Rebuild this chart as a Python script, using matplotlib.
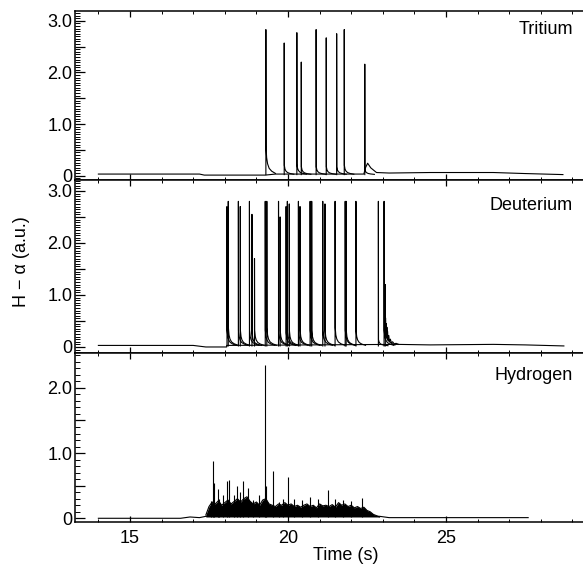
import matplotlib
matplotlib.use("Agg")
import matplotlib.pyplot as plt
import numpy as np
from matplotlib.ticker import MultipleLocator

plt.rcParams['font.family'] = ['Liberation Sans', 'DejaVu Sans']

# ---- Tritium ----
trit_bg_t = [14.0, 17.2, 17.35, 19.28, 19.6, 22.4, 22.45, 22.52, 22.62, 22.8, 23.2, 24.5, 26.5, 27.5, 28.7]
trit_bg_v = [0.03, 0.03, 0.01, 0.01, 0.03, 0.03, 0.15, 0.24, 0.15, 0.06, 0.05, 0.06, 0.06, 0.04, 0.02]
trit_spike_t = [19.30, 19.88, 20.28, 20.42, 20.89, 21.21, 21.54, 21.78, 22.43]
trit_spike_h = [2.83, 2.57, 2.77, 2.20, 2.83, 2.67, 2.75, 2.83, 2.16]
trit_after = [0.55, 0.18, 0.2, 0.15, 0.15, 0.15, 0.15, 0.18, 0.1]

# ---- Deuterium ----
deut_bg_t = [14.0, 17.0, 17.4, 18.06, 18.06, 23.45, 24.5, 26.5, 27.5, 28.73]
deut_bg_v = [0.03, 0.03, 0.0, 0.0, 0.03, 0.05, 0.04, 0.05, 0.04, 0.02]
deut_spike_t = [18.07, 18.11, 18.43, 18.49, 18.78, 18.86, 18.94, 19.28, 19.33, 19.70, 19.75,
                19.94, 19.98, 20.04, 20.33, 20.38, 20.70, 20.75, 21.10, 21.17, 21.49, 21.81,
                21.84, 22.15, 22.86, 23.04, 23.08]
deut_spike_h = [2.7, 2.8, 2.8, 2.7, 2.8, 2.55, 1.7, 2.8, 2.8, 2.8, 2.5, 2.7, 2.8, 2.75, 2.8,
                2.7, 2.8, 2.8, 2.8, 2.75, 2.8, 2.8, 2.8, 2.8, 2.8, 2.8, 1.2]
deut_after = [0.3, 0.35, 0.3, 0.3, 0.3, 0.25, 0.3, 0.3, 0.35, 0.3, 0.3, 0.25, 0.3, 0.3, 0.3,
              0.3, 0.3, 0.3, 0.3, 0.3, 0.35, 0.3, 0.3, 0.3, 0.12, 0.3, 0.45]
deut_tail_t = [23.09, 23.10, 23.11, 23.12, 23.13, 23.14, 23.15, 23.17, 23.19, 23.21, 23.24,
               23.27, 23.31, 23.36, 23.42, 23.5]
deut_tail_v = [0.55, 0.2, 0.45, 0.18, 0.38, 0.15, 0.3, 0.12, 0.22, 0.1, 0.15, 0.08, 0.1,
               0.06, 0.07, 0.05]

# ---- Hydrogen ----
hyd_bg_t = [14.0, 16.6, 16.9, 17.2, 17.4, 22.9, 23.2, 27.6]
hyd_bg_v = [0.0, 0.0, 0.02, 0.01, 0.03, 0.03, 0.01, 0.01]
hyd_env_v = [0.05, 0.18, 0.25, 0.22, 0.27, 0.2, 0.24, 0.28, 0.22, 0.26,
             0.3, 0.25, 0.3, 0.33, 0.26, 0.22, 0.25, 0.2, 0.28, 0.3,
             0.22, 0.2, 0.18, 0.22, 0.2, 0.24, 0.2, 0.22, 0.18, 0.2,
             0.17, 0.2, 0.22, 0.18, 0.2, 0.16, 0.22, 0.19, 0.2, 0.18,
             0.21, 0.17, 0.24, 0.2, 0.22, 0.18, 0.2, 0.16, 0.18, 0.15,
             0.17, 0.12, 0.1, 0.06, 0.04, 0.02]
hyd_env_t = np.round(17.4 + 0.1 * np.arange(len(hyd_env_v)), 2)
hyd_spike_t = [17.56, 17.64, 17.67, 17.77, 17.82, 17.95, 18.07, 18.13, 18.28, 18.38, 18.49,
               18.59, 18.75, 18.88, 19.08, 19.26, 19.30, 19.54, 19.7, 19.85, 20.01, 20.2,
               20.45, 20.7, 20.95, 21.28, 21.5, 21.75, 22.0, 22.33]
hyd_spike_h = [0.26, 0.88, 0.54, 0.45, 0.30, 0.35, 0.57, 0.59, 0.35, 0.5, 0.41, 0.57, 0.47,
               0.28, 0.35, 2.35, 0.49, 0.73, 0.25, 0.3, 0.63, 0.3, 0.28, 0.32, 0.3, 0.44,
               0.3, 0.28, 0.27, 0.31]

# decay shape after each ELM, fraction of the post-spike level
decay_dt = [0.02, 0.05, 0.1, 0.18, 0.3]
decay_frac = [0.6, 0.38, 0.22, 0.12, 0.04]

LW = 0.8


def draw_elms(ax, times, heights, after, base=0.02):
    for t, h, a in zip(times, heights, after):
        xs = [t, t, t + 0.004] + [t + 0.004 + d for d in decay_dt]
        ys = [base, h, base + a] + [base + a * f for f in decay_frac]
        ax.plot(xs, ys, color="k", lw=LW)


fig = plt.figure(figsize=(5.83, 5.64), dpi=100)
W = 583.0
H = 564.0
left = 75 / W
width = (586 - 75) / W
ax1 = fig.add_axes([left, 1 - 180 / H, width, 169 / H])
ax2 = fig.add_axes([left, 1 - 352.7 / H, width, 172.7 / H])
ax3 = fig.add_axes([left, 1 - 522 / H, width, 169.3 / H])

ax1.plot(trit_bg_t, trit_bg_v, color="k", lw=LW)
draw_elms(ax1, trit_spike_t, trit_spike_h, trit_after)

ax2.plot(deut_bg_t, deut_bg_v, color="k", lw=LW)
draw_elms(ax2, deut_spike_t, deut_spike_h, deut_after)
ax2.plot(deut_tail_t, deut_tail_v, color="k", lw=LW)

ax3.plot(hyd_bg_t, hyd_bg_v, color="k", lw=LW)
ax3.fill_between(hyd_env_t, 0.02, hyd_env_v, color="k", lw=0)
ax3.plot(hyd_env_t, hyd_env_v, color="k", lw=LW)
ax3.vlines(hyd_spike_t, 0.02, hyd_spike_h, color="k", lw=LW)

labels = ["Tritium", "Deuterium", "Hydrogen"]
label_y = [0.888, 0.855, 0.868]
for ax, lab, ly in zip([ax1, ax2, ax3], labels, label_y):
    ax.set_xlim(13.26, 29.43)
    ax.xaxis.set_major_locator(MultipleLocator(5))
    ax.xaxis.set_minor_locator(MultipleLocator(1))
    ax.tick_params(axis="x", which="both", direction="in", top=True, bottom=True)
    ax.tick_params(axis="x", which="major", length=4.3, width=0.9)
    ax.tick_params(axis="x", which="minor", length=2.0, width=0.7)
    ax.tick_params(axis="y", which="both", direction="in", left=True, right=False)
    ax.tick_params(axis="y", which="major", length=7, width=0.9, labelsize=13, pad=2)
    ax.tick_params(axis="y", which="minor", length=3.5, width=0.7)
    ax.tick_params(axis="x", labelsize=13, pad=6)
    for s in ax.spines.values():
        s.set_linewidth(1.1)
    ax.text(0.9746, ly, lab, transform=ax.transAxes, ha="right", va="center", fontsize=13)

for ax in [ax1, ax2]:
    ax.set_yticks([0, 0.5, 1, 1.5, 2, 2.5, 3])
    ax.set_yticklabels(["0", "", "1.0", "", "2.0", "", "3.0"])
    ax.yaxis.set_minor_locator(MultipleLocator(0.05))
    ax.tick_params(axis="x", labelbottom=False)
ax1.set_ylim(-0.085, 3.19)
ax2.set_ylim(-0.11, 3.21)

ax3.set_yticks([0, 0.5, 1, 1.5, 2])
ax3.set_yticklabels(["0", "", "1.0", "", "2.0"])
ax3.yaxis.set_minor_locator(MultipleLocator(0.1))
ax3.set_ylim(-0.057, 2.54)

fig.text(22 / W, 1 - 262 / H, "H \u2212 \u03b1 (a.u.)", rotation=90, ha="center", va="center", fontsize=13)
fig.text(346 / W, 1 - 555 / H, "Time (s)", ha="center", va="center", fontsize=13)

fig.savefig("out.png", dpi=100)
